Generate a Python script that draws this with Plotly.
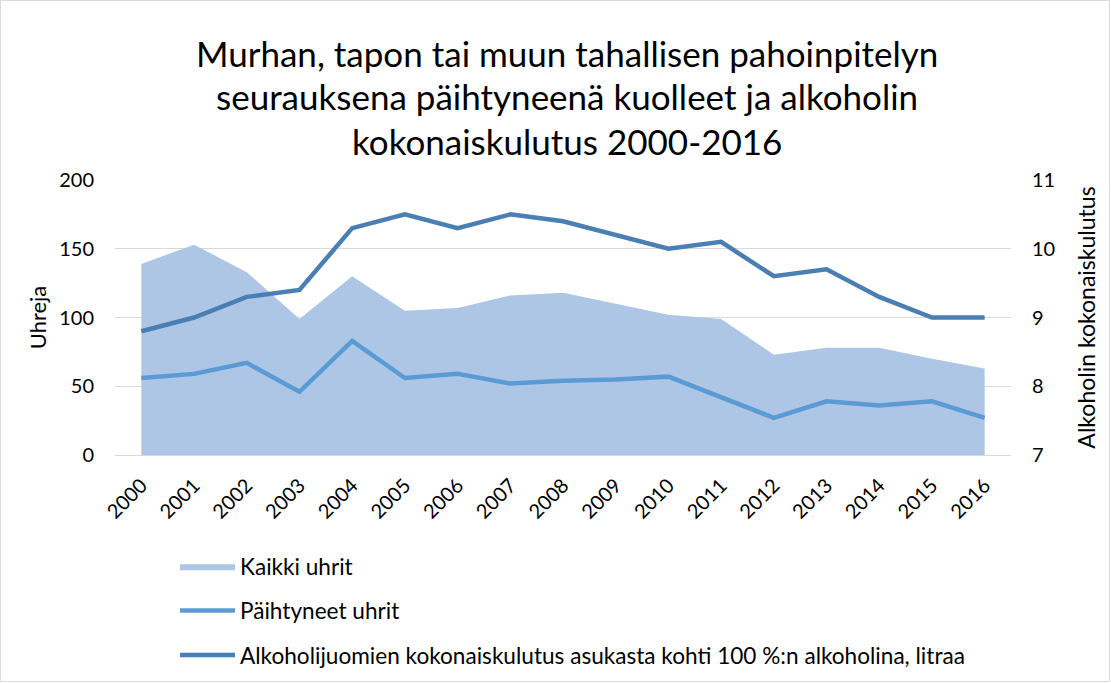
import plotly.graph_objects as go

years = [str(y) for y in range(2000, 2017)]
kaikki_uhrit = [139, 153, 133, 99, 130, 105, 107, 116, 118, 110, 102, 99, 73, 78, 78, 70, 63]
paihtyneet_uhrit = [56, 59, 67, 46, 83, 56, 59, 52, 54, 55, 57, 42, 27, 39, 36, 39, 27]
alkoholi = [8.8, 9.0, 9.3, 9.4, 10.3, 10.5, 10.3, 10.5, 10.4, 10.2, 10.0, 10.1, 9.6, 9.7, 9.3, 9.0, 9.0]

title_lines = [
    "Murhan, tapon tai muun tahallisen pahoinpitelyn",
    "seurauksena päihtyneenä kuolleet ja alkoholin",
    "kokonaiskulutus 2000-2016",
]

FONT = "Lato"
W, H = 1111, 683
L, R, T, B = 115, 100, 180, 228
pw, ph = W - L - R, H - T - B

fig = go.Figure()
fig.add_trace(go.Scatter(
    x=years, y=kaikki_uhrit, name="Kaikki uhrit", mode="lines",
    fill="tozeroy", fillcolor="#adc6e5", line=dict(width=0, color="#adc6e5"),
    legendgroup="a",
))
fig.add_trace(go.Scatter(
    x=years, y=paihtyneet_uhrit, name="Päihtyneet uhrit", mode="lines",
    line=dict(width=4.5, color="#5b9bd5"), legendgroup="b",
))
fig.add_trace(go.Scatter(
    x=years, y=alkoholi, name="Alkoholijuomien kokonaiskulutus asukasta kohti 100 %:n alkoholina, litraa",
    mode="lines", line=dict(width=4.5, color="#4a7fb3"), yaxis="y2", legendgroup="c",
))

title_y_px = [53, 96, 141]
annotations = []
for line, ypx in zip(title_lines, title_y_px):
    annotations.append(dict(
        text=line, xref="paper", yref="paper",
        x=(567 - L) / pw, y=(H - B - ypx) / ph,
        xanchor="center", yanchor="middle", showarrow=False,
        font=dict(family=FONT, size=35, color="#000000"),
    ))

fig.update_layout(
    width=W, height=H,
    margin=dict(l=L, r=R, t=T, b=B, autoexpand=False),
    paper_bgcolor="white", plot_bgcolor="white",
    font=dict(family=FONT, size=20, color="#000000"),
    showlegend=True,
    legend=dict(
        x=(175 - L) / pw, y=(H - B - 545) / ph, xanchor="left", yanchor="top",
        orientation="v", tracegroupgap=12, traceorder="grouped", itemwidth=55,
        font=dict(family=FONT, size=22.6, color="#000000"),
        bgcolor="rgba(0,0,0,0)",
    ),
    xaxis=dict(
        type="category", range=[-0.5, 16.5], tickangle=-45, showgrid=False,
        showline=True, linecolor="#d9d9d9", linewidth=1,
        ticks="", tickfont=dict(size=20), ticklabelstandoff=10,
    ),
    yaxis=dict(
        range=[0, 200], dtick=50, showgrid=True, gridcolor="#d9d9d9", gridwidth=1,
        zeroline=False, ticks="", tickfont=dict(size=20), ticklabelstandoff=20,
        title=dict(text="Uhreja", font=dict(size=22), standoff=6),
    ),
    yaxis2=dict(
        range=[7, 11], dtick=1, overlaying="y", side="right", showgrid=False,
        zeroline=False, ticks="", tickfont=dict(size=20), ticklabelstandoff=20,
        title=dict(text="Alkoholin kokonaiskulutus", font=dict(size=23), standoff=24),
    ),
    annotations=annotations,
    shapes=[dict(
        type="rect", xref="paper", yref="paper",
        x0=(0.5 - L) / pw, x1=(W - 1.5 - L) / pw,
        y0=(H - B - (H - 1.5)) / ph, y1=(H - B - 0.5) / ph,
        line=dict(color="#d9d9d9", width=1), fillcolor="rgba(0,0,0,0)", layer="below",
    )],
)

fig.write_html(
    "out.html",
    config={"displayModeBar": False},
    post_script="document.body.style.margin='0';document.body.style.overflow='hidden';",
)
